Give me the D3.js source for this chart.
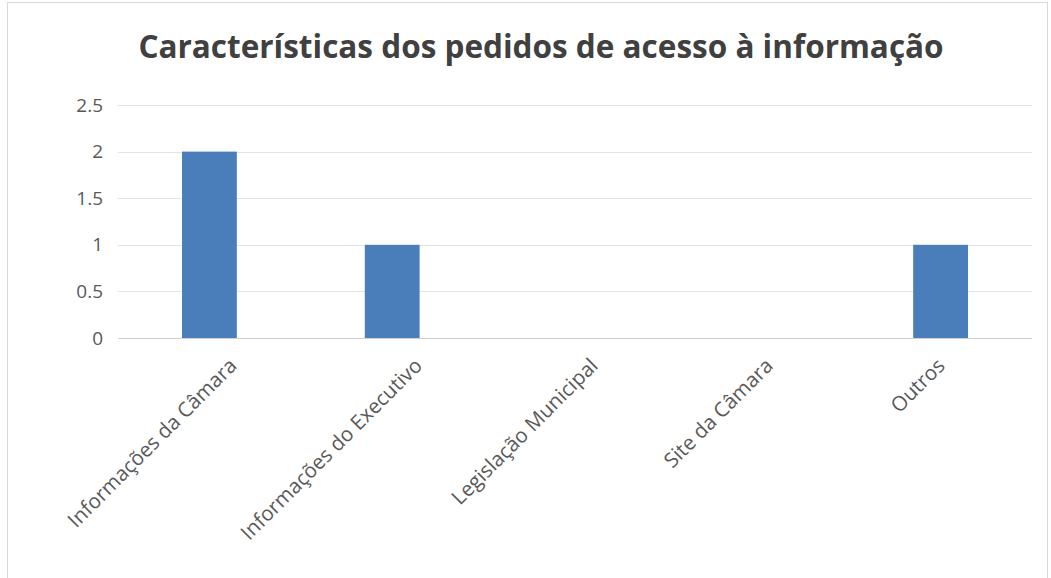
<!DOCTYPE html>
<html>
<head>
<meta charset="utf-8">
<script src="https://cdn.jsdelivr.net/npm/d3@7"></script>
<style>
  body { margin: 0; background: #fff; }
  svg { display: block; }
</style>
</head>
<body>
<svg width="1051" height="578"></svg>
<script>
const categories = ["Informações da Câmara", "Informações do Executivo", "Legislação Municipal", "Site da Câmara", "Outros"];
const values = [2, 1, 0, 0, 1];
const yTicks = [0, 0.5, 1, 1.5, 2, 2.5];
const title = "Características dos pedidos de acesso à informação";

const svg = d3.select('svg');
const font = "'Open Sans', sans-serif";

// chart border (bottom edge is cut off in the picture)
svg.append('rect')
  .attr('x', 7.5).attr('y', 2.5)
  .attr('width', 1040).attr('height', 600)
  .attr('fill', 'none').attr('stroke', '#d9d9d9');

const plot = {left: 118, right: 1032, top: 105, bottom: 338};

const x = d3.scaleBand().domain(categories)
  .range([plot.left, plot.right])
  .paddingInner(0.7).paddingOuter(0.35);

const y = d3.scaleLinear().domain([0, 2.5]).range([plot.bottom, plot.top]);

// gridlines
svg.append('g')
  .selectAll('line').data(yTicks).enter().append('line')
  .attr('x1', plot.left).attr('x2', plot.right)
  .attr('y1', d => Math.round(y(d)) + 0.5).attr('y2', d => Math.round(y(d)) + 0.5)
  .attr('stroke', d => d === 0 ? '#d0d0d0' : '#e3e3e3').attr('stroke-width', 1);

// y axis labels
const yAxis = svg.append('g')
  .attr('transform', `translate(${plot.left - 12},0)`)
  .call(d3.axisLeft(y).tickValues(yTicks).tickSize(0).tickFormat(d3.format('')));
yAxis.select('.domain').remove();
yAxis.selectAll('text')
  .attr('font-family', font).attr('font-size', 19).attr('fill', '#595959');

// bars
svg.append('g')
  .selectAll('rect').data(values).enter().append('rect')
  .attr('x', (d, i) => x(categories[i]))
  .attr('width', x.bandwidth())
  .attr('y', d => y(d))
  .attr('height', d => y(0) - y(d))
  .attr('fill', '#4a7ebb');

// x labels, rotated; longer labels sit a bit further right (like excel does)
const xAxis = svg.append('g')
  .attr('transform', `translate(0,${plot.bottom})`)
  .call(d3.axisBottom(x).tickSize(0));
xAxis.select('.domain').remove();
xAxis.selectAll('text')
  .attr('font-family', font).attr('font-size', 20.5).attr('fill', '#595959')
  .attr('text-anchor', 'end')
  .attr('dy', null)
  .attr('y', 0)
  .attr('transform', function() {
    const len = this.getComputedTextLength();
    return `translate(${-4 + 0.143 * len},29) rotate(-45)`;
  });

// title
svg.append('text')
  .attr('x', 541).attr('y', 58)
  .attr('text-anchor', 'middle')
  .attr('font-family', font).attr('font-size', 31.5).attr('font-weight', 'bold')
  .attr('fill', '#404040')
  .text(title);
</script>
</body>
</html>
